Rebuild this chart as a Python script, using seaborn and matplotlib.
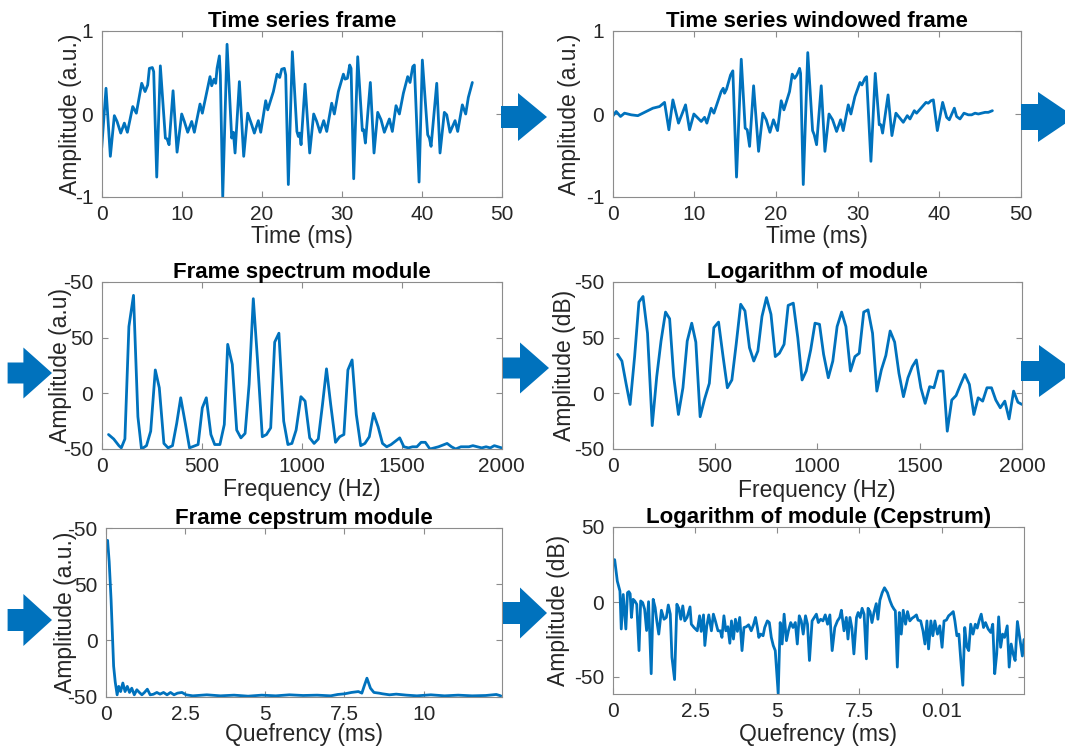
import matplotlib
matplotlib.use('Agg')
import matplotlib.pyplot as plt
from matplotlib.patches import Polygon
import seaborn as sns

# ---- data ----
# time series frame (ms, a.u.)
timeFrameLi = [0, 0.54, 1.08, 1.58, 1.92, 2.38, 2.83, 3.21, 3.88, 4.33, 5.0, 5.42, 5.75, 5.96, 6.33, 6.5,
               6.88, 7.33, 7.96, 8.17, 8.42, 8.92, 9.42, 10.0, 10.33, 10.75, 11.25, 11.58, 12.29, 12.58,
               13.54, 13.75, 14.04, 14.25, 14.42, 14.71, 14.83, 15.13, 15.67, 16.25, 16.46, 16.67, 17.21,
               17.75, 18.25, 18.75, 19.08, 19.58, 19.88, 20.5, 20.75, 21.46, 21.92, 22.25, 22.5, 22.83,
               23.0, 23.33, 23.83, 24.4, 24.58, 24.75, 24.92, 25.42, 26.0, 26.5, 26.88, 27.29, 27.75,
               28.13, 28.75, 29.08, 29.58, 30.21, 30.42, 30.71, 31.0, 31.17, 31.5, 32.0, 32.58, 32.75,
               32.96, 33.58, 34.04, 34.5, 34.92, 35.33, 35.96, 36.33, 36.79, 37.21, 37.71, 38.25, 38.54,
               38.88, 39.08, 39.67, 40.08, 40.75, 40.96, 41.17, 41.88, 42.29, 42.83, 43.13, 43.54, 44.17,
               44.5, 45.08, 45.5, 45.83, 46.33]
ampFrameLi = [-0.41, 0.31, -0.51, -0.02, -0.09, -0.23, -0.11, -0.22, 0.09, 0.01, 0.37, 0.27, 0.35, 0.55, 0.56, 0.51,
              -0.76, 0.58, -0.29, -0.30, -0.37, 0.28, -0.46, 0.0, -0.09, -0.22, -0.09, -0.22, 0.12, 0.01,
              0.45, 0.34, 0.42, 0.37, 0.55, 0.70, 0.47, -1.0, 0.84, -0.29, -0.22, -0.47, 0.39,
              -0.51, 0.01, -0.13, -0.23, -0.08, -0.22, 0.16, 0.05, 0.27, 0.48, 0.44, 0.54, 0.55,
              0.47, -0.85, 0.75, -0.21, -0.27, -0.23, -0.37, 0.36, -0.47, 0.0, -0.09, -0.22, -0.08,
              -0.21, 0.13, 0.0, 0.27, 0.48, 0.42, 0.43, 0.59, 0.55, -0.78, 0.69, -0.2, -0.19,
              -0.35, 0.38, -0.47, 0.02, -0.07, -0.22, -0.06, -0.21, 0.1, 0.0, 0.25, 0.45, 0.38,
              0.57, 0.59, -0.82, 0.65, -0.25, -0.29, -0.39, 0.37, -0.47, 0.02, -0.01, -0.22, -0.08,
              -0.21, 0.11, 0.0, 0.2, 0.38]

# windowed frame (ms, a.u.)
timeWinLi = [0, 0.45, 0.98, 1.47, 2.29, 3.1, 3.92, 4.94, 5.76, 6.37, 6.9, 7.39, 8.08, 8.94, 9.43, 9.96, 10.86,
             11.27, 11.55, 12.08, 12.41, 13.3, 13.55, 13.71, 13.96, 14.45, 14.73, 15.18, 15.76, 16.24, 16.49,
             16.78, 17.27, 17.88, 18.4, 18.82, 19.27, 19.7, 20.2, 20.65, 20.98, 21.67, 22.0, 22.29, 22.57,
             22.9, 23.02, 23.35, 23.9, 24.49, 24.69, 24.98, 25.55, 26.0, 26.5, 26.94, 27.43, 27.92, 28.24,
             28.86, 29.18, 29.67, 30.29, 30.53, 30.9, 31.1, 31.63, 32.16, 32.65, 32.86, 33.06, 33.73, 34.2,
             34.69, 35.18, 35.59, 36.08, 36.41, 36.94, 37.22, 37.84, 38.37, 38.65, 38.98, 39.27, 39.76,
             40.41, 40.9, 41.22, 41.84, 42.12, 42.53, 43.02, 43.55, 43.96, 44.37, 44.78, 45.18, 45.6, 46.0,
             46.5]
ampWinLi = [-0.03, 0.03, -0.03, 0.01, -0.01, -0.02, 0.02, 0.07, 0.09, 0.14, -0.19, 0.17, -0.11, 0.11, -0.19, 0.0, -0.09,
            -0.04, -0.11, 0.07, 0.01, 0.27, 0.31, 0.25, 0.30, 0.47, 0.52, -0.76, 0.66, -0.17, -0.19,
            -0.39, 0.34, -0.45, 0.01, -0.07, -0.22, -0.07, -0.2, 0.16, 0.05, 0.27, 0.48, 0.43, 0.47,
            0.55, 0.49, -0.85, 0.74, -0.2, -0.25, -0.37, 0.34, -0.45, 0.0, -0.07, -0.21, -0.07, -0.2,
            0.11, 0.0, 0.21, 0.38, 0.35, 0.43, 0.45, -0.57, 0.49, -0.13, -0.13, -0.23, 0.23, -0.26,
            0.01, -0.05, -0.1, -0.02, -0.06, 0.04, 0.01, 0.08, 0.14, 0.13, 0.16, 0.17, -0.2,
            0.14, -0.04, -0.07, 0.07, -0.03, -0.06, 0.01, -0.01, -0.01, 0.01, 0.0, 0.01, 0.02, 0.02,
            0.04]

# spectrum module (Hz, a.u.)
freqSpecLi = [34, 60, 86, 98, 116, 136, 159, 181, 199, 224, 245, 268, 288, 311, 332, 354, 375, 395, 418, 439,
              482, 503, 523, 546, 565, 591, 613, 630, 653, 675, 696, 717, 737, 758, 779, 803, 824, 845, 865,
              886, 910, 931, 951, 972, 996, 1017, 1040, 1062, 1083, 1104, 1124, 1145, 1169, 1190, 1211, 1231,
              1252, 1273, 1295, 1316, 1338, 1359, 1382, 1404, 1425, 1447, 1490, 1511, 1534, 1554, 1576, 1597,
              1618, 1641, 1663, 1684, 1727, 1749, 1770, 1796, 1836, 1856, 1900, 1922, 1943, 1963, 2000]
specModLi = [-37, -41, -47, -49, -41, 60, 88, -21, -50, -47, -34, 21, 5, -45, -49, -47, -27, -4, -27, -49,
             -46, -13, -4, -37, -46, -46, -28, 44, 26, -33, -40, -36, 8, 85, 30, -39, -37, -31, 46,
             54, -25, -46, -45, -33, -3, -7, -40, -45, -41, -10, 22, -10, -44, -39, -37, 21,
             30, -19, -47, -45, -39, -18, -30, -45, -48, -46, -40, -48, -49, -48, -48, -44,
             -44, -50, -49, -48, -45, -48, -50, -48, -48, -47, -49, -48, -49, -47, -49]

# logarithm of module (Hz, dB)
freqLogLi = [25, 46, 66, 86, 108, 129, 149, 171, 194, 216, 237, 259, 279, 299, 322, 344, 365, 387, 407, 428,
             450, 473, 495, 518, 540, 561, 583, 604, 626, 647, 669, 690, 710, 730, 752, 774, 795, 815, 838,
             858, 883, 905, 926, 946, 968, 989, 1011, 1031, 1054, 1076, 1097, 1119, 1140, 1162, 1184, 1205,
             1227, 1248, 1270, 1291, 1313, 1335, 1356, 1378, 1399, 1421, 1443, 1464, 1484, 1506, 1527, 1549,
             1570, 1592, 1614, 1635, 1657, 1678, 1700, 1721, 1743, 1765, 1786, 1808, 1829, 1851, 1872, 1894,
             1916, 1937, 1959, 1980, 2000]
logModLi = [35, 29, 9, -10, 33, 82, 87, 54, -29, 15, 47, 73, 67, 15, -19, 5, 47, 63, 46, -21,
            -5, 9, 59, 64, 33, 5, 12, 44, 80, 74, 41, 29, 38, 69, 86, 71, 33, 36, 44,
            79, 81, 50, 12, 20, 39, 63, 62, 35, 14, 29, 60, 73, 60, 20, 33, 36,
            73, 75, 54, 2, 21, 34, 56, 46, 18, -3, 14, 24, 30, 5, -9, 6,
            5, 20, 20, -34, -6, -2, 8, 17, 8, -19, -4, -7, 5, 5, -6, -13,
            -7, -23, 2, -8, -10]

# cepstrum module (ms, a.u.)
quefCepLi = [0.05, 0.1, 0.16, 0.24, 0.29, 0.35, 0.40, 0.46, 0.53, 0.60, 0.67, 0.74, 0.81, 0.89, 0.97, 1.05,
             1.13, 1.21, 1.30, 1.39, 1.49, 1.60, 1.70, 1.81, 1.92, 2.03, 2.14, 2.25, 2.39, 2.52, 2.73, 3.17,
             3.6, 4.03, 4.47, 4.9, 5.34, 5.77, 6.2, 6.64, 7.07, 7.29, 7.51, 7.72, 7.94, 8.05, 8.12, 8.21,
             8.32, 8.43, 8.59, 8.7, 8.92, 9.13, 9.46, 9.78, 10.22, 10.65, 11.08, 11.52, 11.95, 12.28, 12.42]
cepModLi = [89, 70, 36, -23, -37, -48.5, -41, -45.6, -38, -45.6, -41, -46.4, -42.6, -48.5, -44, -46.4,
            -48.5, -46.4, -43.5, -48.5, -48, -46.4, -47.9, -46.4, -48.5, -46.4, -48.5, -47, -46.4, -48.5, -49.4, -48.5,
            -49.4, -48.8, -49.7, -48.8, -49.4, -48.5, -49.1, -48.8, -49.4, -48.2, -47.6, -46.4, -45.6, -47, -41, -33.7,
            -42.6, -46.4, -47, -47.6, -48.5, -47.9, -48.8, -49.4, -48.5, -49.4, -48.8, -49.4, -49.1, -48.2, -49.4]

# logarithm of module, cepstrum (ms, dB)
quefLogLi = [0, 0.06, 0.14, 0.22, 0.26, 0.32, 0.4, 0.45, 0.49, 0.53, 0.57, 0.62, 0.67, 0.73, 0.8, 0.85, 0.91,
             0.97, 1.03, 1.09, 1.17, 1.23, 1.29, 1.34, 1.4, 1.48, 1.56, 1.63, 1.69, 1.75, 1.8, 1.88, 1.95,
             2.01, 2.07, 2.13, 2.19, 2.26, 2.35, 2.39, 2.47, 2.57, 2.64, 2.69, 2.76, 2.8, 2.86, 2.92, 3.0,
             3.06, 3.12, 3.2, 3.27, 3.32, 3.38, 3.44, 3.5, 3.56, 3.61, 3.67, 3.73, 3.79, 3.86, 3.93, 3.99,
             4.06, 4.13, 4.21, 4.28, 4.34, 4.4, 4.44, 4.5, 4.57, 4.62, 4.7, 4.76, 4.82, 4.88, 4.94, 5.03,
             5.09, 5.15, 5.21, 5.28, 5.34, 5.41, 5.48, 5.55, 5.61, 5.67, 5.73, 5.79, 5.86, 5.92, 5.98, 6.06,
             6.19, 6.25, 6.32, 6.39, 6.46, 6.53, 6.6, 6.67, 6.75, 6.83, 6.9, 6.95, 7.03, 7.1, 7.15, 7.21,
             7.27, 7.33, 7.41, 7.46, 7.52, 7.58, 7.64, 7.71, 7.76, 7.82, 7.88, 7.94, 8.01, 8.06, 8.12, 8.19,
             8.26, 8.35, 8.43, 8.49, 8.55, 8.59, 8.65, 8.71, 8.77, 8.83, 8.9, 8.96, 9.03, 9.1, 9.16, 9.23,
             9.28, 9.36, 9.43, 9.49, 9.55, 9.6, 9.67, 9.73, 9.79, 9.87, 9.94, 10.01, 10.07, 10.14, 10.21,
             10.27, 10.35, 10.4, 10.46, 10.52, 10.58, 10.64, 10.7, 10.76, 10.82, 10.88, 10.95, 11.02, 11.08,
             11.14, 11.2, 11.27, 11.33, 11.41, 11.49, 11.55, 11.61, 11.67, 11.73, 11.79, 11.85, 11.91, 11.99,
             12.05, 12.11, 12.17, 12.23, 12.3, 12.38, 12.45, 12.5]
logCepLi = [28.2, 28.2, 13.9, 7.3, -18, 5, -18, 6.2, 6.9, 5.5, -10.3, 1.8, 0.7, -1.5, -32.4, 0.7, -0.4,
            -4.8, -19, 0.2, -47.8, 1.8, -3.7, -12.6, -21.4, -5.5, -11.5, -10.3, -2, -8.1, -36.8, -51.7, -1.5,
            -4.2, -11.5, -2.6, -12.6, -10.3, -3.3, -14.8, -17, -19.2, -9.2, -19.6, -8.6, -29, -15.9, -8.6, -19.2,
            -8.1, -12.6, -19.2, -19.2, -23.6, -9.2, -19.2, -16.5, -27.5, -12.6, -24.7, -11.5, -19.6, -10.3, -32.4, -17,
            -16.5, -15.2, -19.2, -15.2, -10.3, -17.4, -23.6, -21.4, -22.5, -17, -12.6, -13.7, -23.6, -29, -32.4, -61,
            -13.7, -28, -8.1, -25.8, -19.2, -13.7, -17, -13.7, -28, -9.2, -12.6, -21.4, -9.2, -14.8, -39, -12.6,
            -8.1, -13.7, -11.5, -12.6, -8.6, -14.8, -8.6, -32.4, -17, -12.6, -10.3, -5.5, -19.2, -10.3, -24.7, -10.3,
            -17.4, -34.6, -10.3, -7, -10.3, -4.2, -8.1, -37.9, -4.2, -6.4, -13.7, -7, -1.1, -11.5, 1.1, 6.2,
            9.5, 6.2, 0.7, -2.6, -4.8, -5.9, -43.4, -7, -21.4, -5.5, -14.8, -6.4, -12.6, -10.8, -9.9, -8.6,
            -12.1, -12.6, -19.2, -28, -12.6, -31.3, -12.6, -22.5, -12.6, -21.4, -15.9, -30.2, -12.6, -12.1, -9.2,
            -8.1, -6.4, -12.6, -22.5, -21.4, -39, -55.5, -17, -29.7, -32.4, -14.8, -21.4, -14.8, -17.4,
            -12.1, -8.1, -17, -13.7, -18, -20.3, -14.8, -47.8, -34.6, -9.9, -30.2, -21.4, -23.6, -15.9,
            -43.4, -28, -34.6, -39, -13, -25, -36, -25]

W, H = 1065, 749
BLUE = '#0072BD'
SPINE = '#8c8c8c'
TXT = '#262626'

sns.set_theme(style='white')
plt.rcParams['font.family'] = ['Liberation Sans', 'DejaVu Sans']
plt.rcParams['axes.unicode_minus'] = False


def AxRect(l, r, t, b):
    return [l / W, 1 - b / H, (r - l) / W, (b - t) / H]


def DrawPanel(fig, rect, xLi, yLi, titleStr, xlabStr, ylabStr, xlim, ylim, xticks, xtickLi, yticks, ytickLi,
              ylabX, xlabY):
    ax = fig.add_axes(rect)
    sns.lineplot(x=xLi, y=yLi, ax=ax, color=BLUE, linewidth=2.0, sort=False, estimator=None,
                 solid_joinstyle='round', solid_capstyle='round')
    ax.set_xlim(xlim)
    ax.set_ylim(ylim)
    ax.set_xticks(xticks)
    ax.set_xticklabels(xtickLi)
    ax.set_yticks(yticks)
    ax.set_yticklabels(ytickLi)
    ax.tick_params(direction='in', length=4, width=0.8, color=SPINE, labelsize=15, labelcolor=TXT, pad=6,
                   top=True, right=True, bottom=True, left=True)
    for sp in ax.spines.values():
        sp.set_color(SPINE)
        sp.set_linewidth(0.8)
    ax.set_title(titleStr, fontsize=16, fontweight='bold', color='black', pad=3)
    ax.set_xlabel(xlabStr, fontsize=16.5, color=TXT)
    ax.set_ylabel(ylabStr, fontsize=16.5, color=TXT)
    ax.xaxis.set_label_coords(0.5, xlabY)
    ax.yaxis.set_label_coords(ylabX, 0.5)
    ax.xaxis.label.set_va('center')
    ax.yaxis.label.set_va('center')
    ax.grid(False)
    return ax


def DrawArrow(fig, x0, xb, xt, yc, bh, hh):
    pts = [(x0, yc - bh), (xb, yc - bh), (xb, yc - hh), (xt, yc), (xb, yc + hh), (xb, yc + bh), (x0, yc + bh)]
    verts = [(x / W, 1 - y / H) for x, y in pts]
    fig.add_artist(Polygon(verts, closed=True, transform=fig.transFigure, facecolor=BLUE, edgecolor='none'))


fig = plt.figure(figsize=(W / 100, H / 100), dpi=100)

specTicks = [-50, 0, 50, 100]
specTickLi = ['-50', '0', '50', '-50']

DrawPanel(fig, AxRect(101.7, 501.7, 31, 197), timeFrameLi, ampFrameLi, 'Time series frame', 'Time (ms)',
          'Amplitude (a.u.)', (0, 50), (-1, 1), [0, 10, 20, 30, 40, 50], ['0', '10', '20', '30', '40', '50'],
          [-1, 0, 1], ['-1', '0', '1'], -0.077, -0.235)
DrawPanel(fig, AxRect(612.5, 1021, 31, 197), timeWinLi, ampWinLi, 'Time series windowed frame', 'Time (ms)',
          'Amplitude (a.u.)', (0, 50), (-1, 1), [0, 10, 20, 30, 40, 50], ['0', '10', '20', '30', '40', '50'],
          [-1, 0, 1], ['-1', '0', '1'], -0.106, -0.235)
DrawPanel(fig, AxRect(101.7, 501.7, 282, 449), freqSpecLi, specModLi, 'Frame spectrum module', 'Frequency (Hz)',
          'Amplitude (a.u)', (0, 2000), (-50, 100), [0, 500, 1000, 1500, 2000], ['0', '500', '1000', '1500', '2000'],
          specTicks, specTickLi, -0.102, -0.24)
DrawPanel(fig, AxRect(612.5, 1022, 282, 449), freqLogLi, logModLi, 'Logarithm of module', 'Frequency (Hz)',
          'Amplitude (dB)', (0, 2000), (-50, 100), [0, 500, 1000, 1500, 2000], ['0', '500', '1000', '1500', '2000'],
          specTicks, specTickLi, -0.118, -0.25)
DrawPanel(fig, AxRect(106, 501.7, 528, 696.5), quefCepLi, cepModLi, 'Frame cepstrum module', 'Quefrency (ms)',
          'Amplitude (a.u.)', (0, 12.45), (-50, 100), [0, 2.5, 5, 7.5, 10], ['0', '2.5', '5', '7.5', '10'],
          specTicks, specTickLi, -0.103, -0.223)
DrawPanel(fig, AxRect(612.7, 1024, 527, 693.5), quefLogLi, logCepLi, 'Logarithm of module (Cepstrum)',
          'Quefrency (ms)', 'Amplitude (dB)', (0, 12.5), (-61, 50), [0, 2.5, 5, 7.5, 10],
          ['0', '2.5', '5', '7.5', '0.01'], [-50, 0, 50], ['-50', '0', '50'], -0.131, -0.247)

# block arrows between panels
DrawArrow(fig, 501, 518, 547, 117, 11, 24)
DrawArrow(fig, 1021, 1038, 1075, 117, 13, 25)
DrawArrow(fig, 7.6, 23.4, 52, 373, 10.5, 25.5)
DrawArrow(fig, 503, 520, 549, 368, 10.5, 25.5)
DrawArrow(fig, 1021, 1039, 1075, 371, 10, 26)
DrawArrow(fig, 7.6, 23.4, 52, 620, 11, 26)
DrawArrow(fig, 503, 520, 547, 613, 11, 25.5)

fig.savefig('out.png', dpi=100)
